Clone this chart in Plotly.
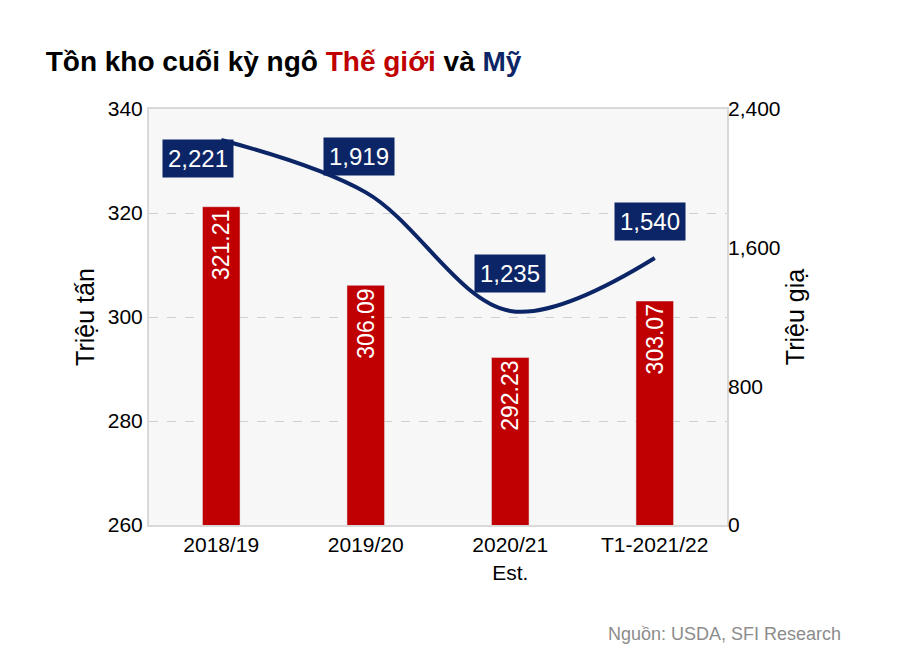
import plotly.graph_objects as go

categories = ["2018/19", "2019/20", "2020/21<br>Est.", "T1-2021/22"]
world = [321.21, 306.09, 292.23, 303.07]
us = [2221, 1919, 1235, 1540]
world_labels = ["321.21", "306.09", "292.23", "303.07"]
us_labels = ["2,221", "1,919", "1,235", "1,540"]

RED = "#C00000"
NAVY = "#0B2566"

fig = go.Figure()
fig.add_trace(go.Bar(
    x=categories, y=world, marker_color=RED, width=0.26,
    text=world_labels, textposition="inside", textangle=-90,
    insidetextanchor="end", textfont=dict(color="white", size=23),
    showlegend=False,
))
fig.add_trace(go.Scatter(
    x=categories, y=us, yaxis="y2", mode="lines",
    line=dict(color=NAVY, width=4, shape="spline", smoothing=1.0),
    showlegend=False,
))

offsets = [(-23, 18), (-7, -36), (0, -37), (-5, -37)]
for c, v, lab, (ax, ay) in zip(categories, us, us_labels, offsets):
    fig.add_annotation(x=c, y=v, yref="y2", text=lab, showarrow=False,
                       xshift=ax, yshift=-ay, bgcolor=NAVY,
                       font=dict(color="white", size=24), borderpad=5)

fig.add_annotation(xref="paper", yref="paper", x=1.2, y=-0.29, xanchor="right",
                   text="Nguồn: USDA, SFI Research", showarrow=False,
                   font=dict(color="#8C8C8C", size=18))

fig.update_layout(
    width=898, height=668,
    margin=dict(l=141, r=179, t=101, b=151),
    paper_bgcolor="white", plot_bgcolor="#F7F7F7",
    font=dict(family="Liberation Sans, Arial", size=21, color="black"),
    title=dict(
        text="<b>Tồn kho cuối kỳ ngô <span style='color:#C00000'>Thế giới</span> và "
             "<span style='color:#0B2566'>Mỹ</span></b>",
        x=0.042, xanchor="left", y=0.935, font=dict(size=28, color="black"),
    ),
    xaxis=dict(showline=True, linecolor="#D9D9D9", linewidth=2, mirror=True,
               tickfont=dict(size=21)),
    yaxis=dict(range=[260, 340], dtick=20,
               title=dict(text="Triệu tấn", font=dict(size=25), standoff=6),
               showgrid=True, gridcolor="#D0D0D0", griddash="dash",
               showline=True, linecolor="#D9D9D9", linewidth=2, mirror=True, zeroline=False),
    yaxis2=dict(range=[0, 2400], tickvals=[0, 800, 1600, 2400],
                ticktext=["0", "800", "1,600", "2,400"], overlaying="y", side="right",
                title=dict(text="Triệu giạ", font=dict(size=25), standoff=6),
                showgrid=False, zeroline=False),
)
fig.write_html("out.html")
